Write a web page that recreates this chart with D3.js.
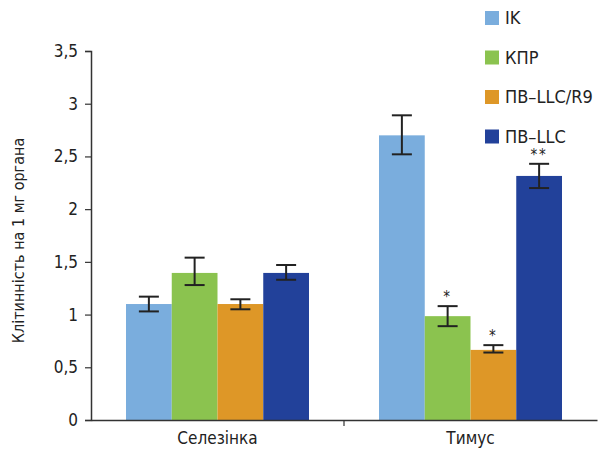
<!DOCTYPE html>
<html lang="uk">
<head>
<meta charset="UTF-8">
<title>Клітинність</title>
<script src="https://d3js.org/d3.v7.min.js"></script>
<style>
  body { margin: 0; background: #fff; }
  svg text { font-family: "Liberation Sans Narrow", "DejaVu Sans Condensed", "Roboto", sans-serif; fill: #222; }
</style>
</head>
<body>
<div id="chart"></div>
<script>
  // дані
  const groups = ["Селезінка", "Тимус"]
  const series = ["IK", "КПР", "ПВ–LLC/R9", "ПВ–LLC"]
  const colors = ["#7aaddd", "#8bc34f", "#de9727", "#22419a"]
  // значення по групах (селезінка, тимус)
  const meanIK = [1.10, 2.70]
  const meanKPR = [1.395, 0.985]
  const meanR9 = [1.10, 0.665]
  const meanLLC = [1.395, 2.315]
  const errLo = [[1.03, 2.52], [1.28, 0.89], [1.05, 0.64], [1.33, 2.20]]
  const errHi = [[1.17, 2.89], [1.54, 1.08], [1.145, 0.71], [1.47, 2.43]]
  const marks = [["", ""], ["", "*"], ["", "*"], ["", "**"]]
  const yTicks = [0, 0.5, 1, 1.5, 2, 2.5, 3, 3.5]

  const means = [meanIK, meanKPR, meanR9, meanLLC]
  const rows = []
  groups.forEach((g, gi) => {
    series.forEach((s, si) => {
      rows.push({group: g, key: s, si: si, v: means[si][gi], lo: errLo[si][gi], hi: errHi[si][gi], mark: marks[si][gi]})
    })
  })

  const W = 600, H = 455
  const mLeft = 91, mRight = 597, mTop = 51, mBottom = 420

  const svg = d3.select("#chart").append("svg")
    .attr("width", W).attr("height", H)

  const y = d3.scaleLinear().domain([0, 3.5]).range([mBottom, mTop])
  const x0 = d3.scaleBand().domain(groups).range([mLeft, mRight])
  const x1 = d3.scaleBand().domain(series).range([35, 218])

  // ось Y
  const yAxis = d3.axisLeft(y).tickValues(yTicks).tickSize(6)
    .tickFormat(d => String(d).replace(".", ","))
  const gy = svg.append("g").attr("transform", `translate(${mLeft},0)`).call(yAxis)
  gy.select(".domain").attr("stroke", "#333").attr("stroke-width", 1.5)
  gy.selectAll(".tick line").attr("stroke", "#333").attr("stroke-width", 1.2)
  gy.selectAll(".tick text").attr("font-size", 17).attr("x", -13)

  svg.append("text")
    .attr("transform", `translate(24,${(mTop + mBottom) / 2 + 5}) rotate(-90)`)
    .attr("text-anchor", "middle")
    .attr("font-size", 16)
    .text("Клітинність на 1 мг органа")

  // стовпці
  svg.append("g").selectAll("rect")
    .data(rows)
    .join("rect")
      .attr("x", d => x0(d.group) + x1(d.key))
      .attr("y", d => y(d.v))
      .attr("width", x1.bandwidth())
      .attr("height", d => y(0) - y(d.v))
      .attr("fill", d => colors[d.si])

  // похибки
  const eb = svg.append("g").attr("stroke", "#222").attr("stroke-width", 2).attr("fill", "none")
  rows.forEach(d => {
    const cx = x0(d.group) + x1(d.key) + x1.bandwidth() / 2
    eb.append("line").attr("x1", cx).attr("x2", cx).attr("y1", y(d.hi)).attr("y2", y(d.lo))
    eb.append("line").attr("x1", cx - 10).attr("x2", cx + 10).attr("y1", y(d.hi)).attr("y2", y(d.hi))
    eb.append("line").attr("x1", cx - 10).attr("x2", cx + 10).attr("y1", y(d.lo)).attr("y2", y(d.lo))
  })

  svg.append("g").selectAll("text")
    .data(rows.filter(d => d.mark))
    .join("text")
      .attr("x", d => x0(d.group) + x1(d.key) + x1.bandwidth() / 2)
      .attr("y", d => y(d.hi) - 4)
      .attr("text-anchor", "middle")
      .attr("font-size", 15)
      .attr("letter-spacing", 2)
      .text(d => d.mark)

  // ось X
  const xAxis = d3.axisBottom(x0).tickSize(0)
  const gx = svg.append("g").attr("transform", `translate(0,${mBottom})`).call(xAxis)
  gx.select(".domain").attr("stroke", "#333").attr("stroke-width", 1.5)
  gx.selectAll(".tick text").attr("font-size", 17).attr("dy", "1.25em")
  svg.append("line")
    .attr("x1", x0.step() + mLeft).attr("x2", x0.step() + mLeft)
    .attr("y1", mBottom).attr("y2", mBottom + 6)
    .attr("stroke", "#333").attr("stroke-width", 1.2)

  // легенда
  const lg = svg.append("g").attr("transform", "translate(485,11)")
  series.forEach((s, i) => {
    const row = lg.append("g").attr("transform", `translate(0,${i * 39.5})`)
    row.append("rect").attr("width", 14).attr("height", 14).attr("fill", colors[i])
    row.append("text").attr("x", 20).attr("y", 13).attr("font-size", 18).text(s)
  })
</script>
</body>
</html>
